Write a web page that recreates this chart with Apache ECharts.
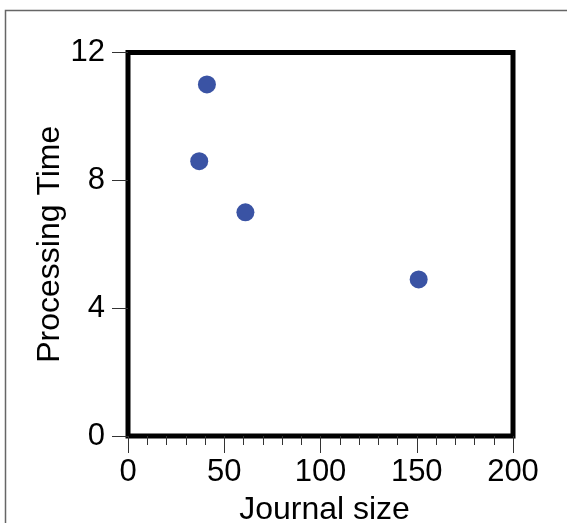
<!DOCTYPE html>
<html>
<head>
<meta charset="utf-8">
<script src="https://cdn.jsdelivr.net/npm/echarts@6/dist/echarts.min.js"></script>
<style>
  html, body { margin: 0; padding: 0; background: #fff; }
  #chart { width: 567px; height: 523px; }
</style>
</head>
<body>
<div id="chart"></div>
<script>
// journal size vs processing time
const journalSize = [41, 37, 61, 151];
const processingTime = [11.0, 8.6, 7.0, 4.9];

const xTicks = [0, 50, 100, 150, 200];
const yTicks = [0, 4, 8, 12];

const points = journalSize.map((x, i) => [x, processingTime[i]]);

const font = 'Liberation Sans, Arial, Helvetica, sans-serif';

const chart = echarts.init(document.getElementById('chart'));

const option = {
    animation: false,
    backgroundColor: '#fff',
    grid: {
        left: 128,
        right: 54,
        top: 52.5,
        bottom: 87,
        containLabel: false,
        outerBoundsMode: 'none',
        show: true,
        borderColor: '#000',
        borderWidth: 5,
        backgroundColor: 'transparent'
    },
    // outer frame (top + left only)
    graphic: [{
        type: 'polyline',
        shape: { points: [[5.5, 523], [5.5, 10.5], [567, 10.5]] },
        style: { stroke: '#666', lineWidth: 1.5, fill: null },
        silent: true
    }],
    xAxis: {
        type: 'value',
        min: xTicks[0],
        max: xTicks[xTicks.length - 1],
        interval: 50,
        name: 'Journal size',
        nameLocation: 'middle',
        nameGap: 58,
        nameMoveOverlap: false,
        nameTextStyle: { fontFamily: font, fontSize: 32, color: '#000', padding: [0, 0, 0, 8] },
        axisLine: { show: false },
        axisTick: { show: true, length: 17, lineStyle: { color: '#333', width: 1 } },
        minorTick: { show: true, splitNumber: 5, length: 9, lineStyle: { color: '#333', width: 1 } },
        splitLine: { show: false },
        axisLabel: { margin: 21, fontFamily: font, fontSize: 31, color: '#000' }
    },
    yAxis: {
        type: 'value',
        min: yTicks[0],
        max: yTicks[yTicks.length - 1],
        interval: 4,
        name: 'Processing Time',
        nameLocation: 'middle',
        nameGap: 62,
        nameMoveOverlap: false,
        nameTextStyle: { fontFamily: font, fontSize: 32, color: '#000' },
        axisLine: { show: false },
        axisTick: { show: true, length: 16, lineStyle: { color: '#333', width: 1 } },
        splitLine: { show: false },
        axisLabel: { margin: 23, fontFamily: font, fontSize: 31, color: '#000' }
    },
    series: [{
        type: 'scatter',
        data: points,
        symbol: 'circle',
        symbolSize: 18,
        itemStyle: { color: '#3a53a4', opacity: 1 }
    }]
};

chart.setOption(option);
</script>
</body>
</html>
